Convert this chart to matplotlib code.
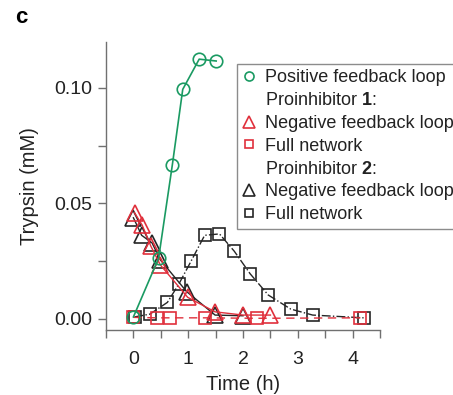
import matplotlib
matplotlib.use('Agg')
import matplotlib.pyplot as plt
from matplotlib.lines import Line2D

plt.rcParams['font.family'] = ['Liberation Sans', 'DejaVu Sans']
plt.rcParams['mathtext.fontset'] = 'custom'
plt.rcParams['mathtext.rm'] = 'Liberation Sans'
plt.rcParams['mathtext.bf'] = 'Liberation Sans:bold'

# positive feedback loop
pos_t = [0.0, 0.46, 0.71, 0.90, 1.20, 1.51]
pos_y = [0.0007, 0.0262, 0.0666, 0.0994, 0.1125, 0.1117]

# proinhibitor 1
neg1_t = [0.02, 0.16, 0.32, 0.49, 0.99, 1.49, 2.0, 2.5]
neg1_y = [0.0459, 0.0405, 0.0313, 0.0233, 0.0092, 0.0029, 0.0015, 0.0015]
full1_t = [0.0, 0.43, 0.67, 1.31, 2.25, 4.14]
full1_y = [0.0005, 0.0003, 0.0003, 0.0003, 0.0001, 0.0003]

# proinhibitor 2
neg2_t = [0.0, 0.15, 0.34, 0.49, 0.97, 1.49, 2.0]
neg2_y = [0.0437, 0.0361, 0.0328, 0.0255, 0.0117, 0.0015, 0.0012]
full2_t = [0.02, 0.30, 0.62, 0.83, 1.05, 1.30, 1.57, 1.84, 2.13, 2.46, 2.87, 3.27, 4.20]
full2_y = [0.0007, 0.0019, 0.0070, 0.0150, 0.0248, 0.0361, 0.0367, 0.0292,
           0.0194, 0.0102, 0.0041, 0.0015, 0.0003]

green = '#1a9a62'
red = '#e0303c'
black = '#262626'
spine = '#707070'

fig = plt.figure(figsize=(4.53, 3.95), dpi=100)
ax = fig.add_axes([0.234, 0.165, 0.605, 0.729])

mk = dict(markerfacecolor='none', markeredgewidth=1.2)
ax.plot(full2_t, full2_y, color=black, ls='-.', lw=1.0, marker='s', ms=8.5,
        markeredgecolor=black, **mk)
ax.plot(neg2_t, neg2_y, color=black, ls='-', lw=1.0, marker='^', ms=11,
        markeredgecolor=black, **mk)
ax.plot(full1_t, full1_y, color=red, ls=(0, (6, 4)), lw=1.0, marker='s', ms=8.5,
        markeredgecolor=red, **mk)
ax.plot(neg1_t, neg1_y, color=red, ls='-', lw=1.0, marker='^', ms=11,
        markeredgecolor=red, **mk)
ax.plot(pos_t, pos_y, color=green, ls='-', lw=1.2, marker='o', ms=9,
        markeredgecolor=green, **mk)

ax.set_xlim(-0.5, 4.5)
ax.set_ylim(-0.0049, 0.120)
ax.set_xticks([0, 1, 2, 3, 4])
ax.set_xticks([-0.5, 0.5, 1.5, 2.5, 3.5, 4.5], minor=True)
ax.set_yticks([0.0, 0.05, 0.10])
ax.set_yticklabels(['0.00', '0.05', '0.10'])
ax.set_yticks([0.025, 0.075], minor=True)

for s in ['top', 'right']:
    ax.spines[s].set_visible(False)
for s in ['left', 'bottom']:
    ax.spines[s].set_color(spine)
    ax.spines[s].set_linewidth(1.0)
ax.tick_params(which='major', length=6, width=1.0, color=spine, labelsize=14,
               labelcolor='#222222', pad=4)
ax.tick_params(axis='x', which='major', pad=9)
ax.tick_params(which='minor', length=6, width=1.0, color=spine)

ax.set_xlabel('Time (h)', fontsize=14.5, color='#222222', labelpad=5)
ax.set_ylabel('Trypsin (mM)', fontsize=14.5, color='#222222', labelpad=11)

def h(color, marker, size):
    return Line2D([], [], ls='none', marker=marker, ms=size, markerfacecolor='none',
                  markeredgecolor=color, markeredgewidth=1.2)

blank = Line2D([], [], ls='none', marker='none')
handles = [h(green, 'o', 6.5), blank, h(red, '^', 8), h(red, 's', 6),
           blank, h(black, '^', 8), h(black, 's', 6)]
labels = ['Positive feedback loop', r'Proinhibitor $\mathbf{1}$:', 'Negative feedback loop',
          'Full network', r'Proinhibitor $\mathbf{2}$:', 'Negative feedback loop', 'Full network']
leg = ax.legend(handles, labels, loc='upper left', bbox_to_anchor=(0.477, 0.923),
                fontsize=13, frameon=True, fancybox=False, borderpad=0.3,
                handlelength=0.8, handletextpad=0.45, labelspacing=0.32,
                borderaxespad=0)
leg.get_frame().set_edgecolor(spine)
leg.get_frame().set_linewidth(1.0)
for t in leg.get_texts():
    t.set_color('#222222')

fig.text(0.033, 0.955, 'c', fontsize=16, fontweight='bold', va='center', ha='left')

fig.savefig('out.png', dpi=100)
